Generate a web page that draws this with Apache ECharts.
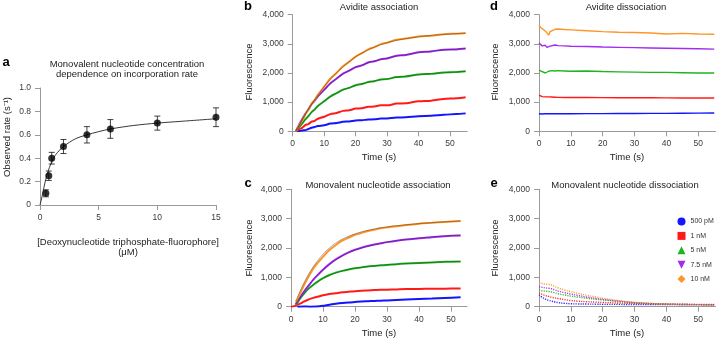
<!DOCTYPE html>
<html><head><meta charset="utf-8">
<script src="https://cdn.jsdelivr.net/npm/echarts@6/dist/echarts.min.js"></script>
<style>html,body{margin:0;padding:0;background:#fff}#c{width:718px;height:339px}</style>
</head><body><div id="c"></div>
<script>
// ---------- Panel a ----------
const aConc = [0.5, 0.75, 1, 2, 4, 6, 10, 15];
const aRate = [0.10, 0.25, 0.40, 0.50, 0.60, 0.65, 0.70, 0.75];
const aErr  = [0.03, 0.04, 0.05, 0.06, 0.07, 0.08, 0.06, 0.08];
const aFitX = [0, 0.1, 0.23, 0.4, 0.57, 0.8, 1.14, 1.5, 2, 3, 4, 5, 6, 8, 10, 12, 15];
const aFitY = [0, 0.04, 0.10, 0.18, 0.25, 0.32, 0.40, 0.45, 0.50, 0.565, 0.60, 0.627, 0.65, 0.68, 0.70, 0.715, 0.737];
const aXTicks = [0, 5, 10, 15];

// ---------- legend / series ----------
const concLabels = ['500 pM', '1 nM', '5 nM', '7.5 nM', '10 nM'];
const timeTicks = [0, 10, 20, 30, 40, 50];

// ---------- Panel b: Avidite association ----------
const tB = [1,2,3,4,5,6,7,8,10,12,14,16,18,20,22,24,26,28,30,33,36,40,44,48,52,55];
const bBlue   = [0,10,30,40,80,120,150,180,210,265,285,325,340,370,380,405,410,435,440,470,480,520,535,570,590,615];
const bRed    = [0,70,120,210,250,330,360,430,500,590,630,700,720,780,790,840,850,890,890,950,960,1030,1050,1110,1130,1170];
const bGreen  = [0,140,260,410,520,660,750,870,1030,1200,1310,1430,1490,1580,1620,1690,1720,1780,1790,1860,1880,1950,1970,2020,2030,2060];
const bPurple = [0,220,410,600,750,930,1050,1200,1420,1650,1810,1980,2080,2200,2260,2360,2400,2470,2500,2590,2620,2710,2740,2800,2810,2840];
const bOrange = [0,200,360,580,750,940,1080,1250,1530,1810,2010,2230,2390,2560,2680,2810,2890,2990,3040,3140,3180,3250,3280,3330,3350,3370];
const bGreenFit  = [10,130,270,400,530,650,760,860,1040,1190,1320,1420,1500,1570,1630,1680,1730,1770,1800,1850,1890,1940,1980,2010,2040,2050];
const bPurpleFit = [20,200,400,590,760,920,1060,1190,1430,1640,1820,1970,2090,2190,2270,2350,2410,2460,2510,2580,2630,2700,2750,2790,2820,2840];
const bOrangeFit = [20,190,380,570,760,930,1090,1240,1530,1790,2010,2210,2390,2550,2680,2790,2890,2970,3040,3120,3180,3240,3290,3320,3350,3360];

// ---------- Panel c: Monovalent nucleotide association ----------
const tC = [1.5,2,3,4,5,6,7,8,10,12,14,16,18,20,22,24,26,28,30,33,36,40,44,48,53];
const tCRed = [0,1,2,3,4,5,6,7,8,10,12,14,16,18,20,22,24,26,28,30,33,36,40,44,48,53];
const tCBlue = [2,4,6,8,10,12,14,16,18,20,22,24,26,28,30,33,36,40,44,48,53];
const cBlue   = [0,10,0,5,30,70,100,125,145,160,175,185,195,205,215,230,245,265,280,300,320];
const cRed    = [0,20,60,110,170,220,265,300,330,390,430,460,490,510,530,545,555,565,575,580,590,600,605,610,615,620];
const cGreen  = [60,130,300,440,570,660,750,830,970,1080,1160,1220,1270,1310,1340,1370,1390,1410,1420,1450,1470,1490,1510,1530,1540];
const cPurple = [80,180,340,500,650,790,920,1040,1260,1450,1610,1740,1850,1940,2010,2070,2120,2160,2200,2250,2290,2330,2370,2400,2430];
const cOrange = [150,240,490,720,930,1120,1300,1450,1700,1930,2100,2250,2350,2450,2510,2580,2620,2670,2700,2740,2780,2830,2860,2890,2920];
const cGreenFit  = [80,160,310,440,560,660,750,830,960,1070,1150,1220,1270,1310,1340,1370,1390,1410,1430,1450,1470,1490,1510,1530,1540];
const cPurpleFit = [100,200,360,520,670,800,930,1050,1260,1440,1600,1730,1840,1930,2000,2060,2110,2160,2200,2250,2290,2340,2380,2410,2440];
const cOrangeFit = [200,320,570,800,1010,1200,1370,1520,1790,2000,2170,2300,2400,2480,2550,2600,2650,2690,2720,2760,2790,2830,2860,2890,2920];

// ---------- Panel d: Avidite dissociation ----------
const tD = [0,0.5,1,1.5,2,2.5,3,3.5,4,5,6,8,10,15,20,25,30,35,40,45,50,55];
const dBlue   = [600,595,595,600,600,600,600,600,600,600,600,600,600,605,605,610,610,615,615,620,625,630];
const dRed    = [1240,1210,1190,1200,1180,1170,1180,1170,1175,1170,1165,1160,1160,1160,1155,1150,1150,1150,1145,1140,1140,1140];
const dGreen  = [2100,2080,2050,2090,2000,1950,2060,2070,2080,2070,2080,2070,2060,2070,2050,2040,2030,2020,2020,2010,2000,2000];
const dPurple = [3030,2980,2930,2870,2950,2880,2850,2920,2930,2960,2940,2930,2920,2910,2890,2880,2870,2860,2850,2840,2830,2820];
const dOrange = [3650,3560,3520,3480,3420,3380,3300,3420,3480,3500,3510,3490,3480,3450,3420,3400,3390,3370,3340,3360,3340,3330];

// ---------- Panel e: Monovalent nucleotide dissociation ----------
const tE = [0,1,2,3,4,5,6,8,10,12,15,18,20,25,30,35,40,45,50,55];
const eBlue   = [400,320,260,220,190,160,140,115,100,95,90,85,80,78,75,72,70,70,70,70];
const eRed    = [470,420,380,350,320,300,280,240,210,190,170,155,145,125,110,100,90,85,80,75];
const eGreen  = [560,540,530,520,500,470,440,400,360,330,290,250,230,180,135,105,90,75,70,65];
const ePurple = [680,660,640,630,610,570,530,480,430,390,330,280,250,190,140,110,90,75,70,65];
const eOrange = [800,790,770,760,740,690,640,570,510,460,390,330,290,210,150,110,90,75,70,65];
const yTicks = [0, 1000, 2000, 3000, 4000];

// ---------- build ----------
const COLORS = ['#1414ff', '#ff1a1a', '#1fb51f', '#a22cf0', '#ff9528'];
const FONT = '"Liberation Sans", Arial, sans-serif';
const AX = '#9a9a9a', LBL = '#3a3a3a';
const zip = (xs, ys) => xs.map((x, i) => [x, ys[i]]);

const grids = [
  {left: 40, top: 88, width: 176, height: 117},
  {left: 292.7, top: 14.7, width: 174.5, height: 116.6},
  {left: 291, top: 189.3, width: 176, height: 117.4},
  {left: 539, top: 14.7, width: 176.5, height: 116.6},
  {left: 539, top: 189.3, width: 176.5, height: 117.4}
];
function xAx(gi, max, ticks) {
  return {type: 'value', gridIndex: gi, min: 0, max: max,
    axisLine: {lineStyle: {color: AX, width: 1}},
    axisTick: {show: true, customValues: ticks, length: 5, lineStyle: {color: AX}},
    axisLabel: {customValues: ticks, color: LBL, fontSize: 8.5, fontFamily: FONT, margin: 8},
    splitLine: {show: false}};
}
function yAx(gi, max, ticks, fmt) {
  return {type: 'value', gridIndex: gi, min: 0, max: max,
    axisLine: {show: true, lineStyle: {color: AX, width: 1}},
    axisTick: {show: true, customValues: ticks, length: 5, lineStyle: {color: AX}},
    axisLabel: {customValues: ticks, color: LBL, fontSize: 8.5, fontFamily: FONT, margin: 9, formatter: fmt},
    splitLine: {show: false}};
}
const comma = v => Number(v).toLocaleString('en-US');

const xAxis = [
  xAx(0, 15, aXTicks),
  xAx(1, 55.5, timeTicks),
  xAx(2, 55, timeTicks),
  xAx(3, 55.4, timeTicks),
  xAx(4, 55.4, timeTicks)
];
const yAxis = [
  yAx(0, 1, [0, 0.2, 0.4, 0.6, 0.8, 1.0], v => v === 0 ? '0' : Number(v).toFixed(1)),
  yAx(1, 4000, yTicks, comma),
  yAx(2, 4000, yTicks, comma),
  yAx(3, 4000, yTicks, comma),
  yAx(4, 4000, yTicks, comma)
];

const series = [];
// panel a
series.push({type: 'line', xAxisIndex: 0, yAxisIndex: 0, data: zip(aFitX, aFitY), smooth: 0.3,
  showSymbol: false, lineStyle: {color: '#222', width: 0.9}, z: 2});
series.push({type: 'custom', xAxisIndex: 0, yAxisIndex: 0, z: 3,
  data: aConc.map((x, i) => [x, aRate[i] - aErr[i], aRate[i] + aErr[i]]),
  renderItem: function (params, api) {
    const x = api.value(0), lo = api.value(1), hi = api.value(2);
    const p1 = api.coord([x, lo]), p2 = api.coord([x, hi]);
    const w = 3, st = {stroke: '#111', lineWidth: 0.8};
    return {type: 'group', children: [
      {type: 'line', shape: {x1: p1[0], y1: p1[1], x2: p2[0], y2: p2[1]}, style: st},
      {type: 'line', shape: {x1: p1[0] - w, y1: p1[1], x2: p1[0] + w, y2: p1[1]}, style: st},
      {type: 'line', shape: {x1: p2[0] - w, y1: p2[1], x2: p2[0] + w, y2: p2[1]}, style: st}
    ]};
  }});
series.push({type: 'scatter', xAxisIndex: 0, yAxisIndex: 0, data: zip(aConc, aRate), symbolSize: 7,
  itemStyle: {color: '#000'}, z: 4});

function dataLine(gi, name, ci, xs, ys, opts) {
  const o = Object.assign({type: 'line', name: name, xAxisIndex: gi, yAxisIndex: gi, data: zip(xs, ys),
    showSymbol: false, color: COLORS[ci], lineStyle: {color: COLORS[ci], width: 2}, z: 2}, opts || {});
  series.push(o);
}
function fitLine(gi, xs, ys) {
  series.push({type: 'line', xAxisIndex: gi, yAxisIndex: gi, data: zip(xs, ys), smooth: 0.4,
    showSymbol: false, lineStyle: {color: '#1a1a1a', width: 0.5, opacity: 0.75}, z: 3});
}
// b
dataLine(1, concLabels[0], 0, tB, bBlue, {smooth: 0.3});
dataLine(1, concLabels[1], 1, tB, bRed, {smooth: 0.3});
dataLine(1, concLabels[2], 2, tB, bGreen, {smooth: 0.3});
dataLine(1, concLabels[3], 3, tB, bPurple, {smooth: 0.3});
dataLine(1, concLabels[4], 4, tB, bOrange, {smooth: 0.3});
fitLine(1, tB, bGreenFit); fitLine(1, tB, bPurpleFit); fitLine(1, tB, bOrangeFit);
// c
dataLine(2, concLabels[0], 0, tCBlue, cBlue, {smooth: 0.3});
dataLine(2, concLabels[1], 1, tCRed, cRed, {smooth: 0.3});
dataLine(2, concLabels[2], 2, tC, cGreen, {smooth: 0.3});
dataLine(2, concLabels[3], 3, tC, cPurple, {smooth: 0.3});
dataLine(2, concLabels[4], 4, tC, cOrange, {smooth: 0.3});
fitLine(2, tC, cGreenFit); fitLine(2, tC, cPurpleFit); fitLine(2, tC, cOrangeFit);
// d
dataLine(3, concLabels[0], 0, tD, dBlue, {lineStyle: {color: COLORS[0], width: 1.4}});
dataLine(3, concLabels[1], 1, tD, dRed, {lineStyle: {color: COLORS[1], width: 1.4}});
dataLine(3, concLabels[2], 2, tD, dGreen, {lineStyle: {color: COLORS[2], width: 1.4}});
dataLine(3, concLabels[3], 3, tD, dPurple, {lineStyle: {color: COLORS[3], width: 1.4}});
dataLine(3, concLabels[4], 4, tD, dOrange, {lineStyle: {color: COLORS[4], width: 1.4}});
// e
const eSets = [eBlue, eRed, eGreen, ePurple, eOrange];
eSets.forEach((ys, i) => dataLine(4, concLabels[i], i, tE, ys,
  {smooth: 0.4, lineStyle: {color: COLORS[i], width: 1.4, type: [1.2, 1.2], opacity: 0.9}}));

const T = (text, x, y, o) => Object.assign({type: 'text', x: x, y: y,
  style: {text: text, font: '9.5px ' + FONT, fill: '#222', align: 'center', verticalAlign: 'middle',
    textAlign: 'center', textVerticalAlign: 'middle'}}, o || {});
const B = (text, x, y) => T(text, x, y, {style: {text: text, font: 'bold 13px ' + FONT, fill: '#000',
  align: 'center', verticalAlign: 'middle', textAlign: 'center', textVerticalAlign: 'middle'}});
const R = (text, x, y) => T(text, x, y, {rotation: Math.PI / 2});

const graphic = [
  B('a', 6, 62), B('b', 248, 6), B('c', 248, 183), B('d', 494, 6), B('e', 494, 183),
  T('Monovalent nucleotide concentration', 127, 64),
  T('dependence on incorporation rate', 127, 74.5),
  T('[Deoxynucleotide triphosphate-fluorophore]', 128, 242.5),
  T('(μM)', 128, 252.5),
  R('Observed rate (s⁻¹)', 7, 137),
  T('Avidite association', 379, 7.5),
  T('Monovalent nucleotide association', 378, 185),
  T('Avidite dissociation', 626, 7.5),
  T('Monovalent nucleotide dissociation', 625, 185),
  R('Fluorescence', 249, 72), R('Fluorescence', 249, 248),
  R('Fluorescence', 495, 72), R('Fluorescence', 495, 248),
  T('Time (s)', 379, 157), T('Time (s)', 379, 333),
  T('Time (s)', 627, 157), T('Time (s)', 627, 333)
];

const icons = ['circle', 'rect', 'triangle', 'path://M0,0L10,0L5,10Z', 'diamond'];
const option = {
  animation: false,
  backgroundColor: '#fff',
  grid: grids,
  xAxis: xAxis,
  yAxis: yAxis,
  series: series,
  graphic: graphic,
  legend: {
    orient: 'vertical', left: 677.5, top: 217.5, itemWidth: 8, itemHeight: 8, itemGap: 6.4,
    padding: 0, selectedMode: false,
    textStyle: {fontSize: 7, fontFamily: FONT, color: '#333', lineHeight: 8},
    data: concLabels.map((n, i) => ({name: n, icon: icons[i], itemStyle: {color: COLORS[i]}}))
  }
};
const chart = echarts.init(document.getElementById('c'), null, {renderer: 'canvas'});
chart.setOption(option);
</script>
</body></html>
